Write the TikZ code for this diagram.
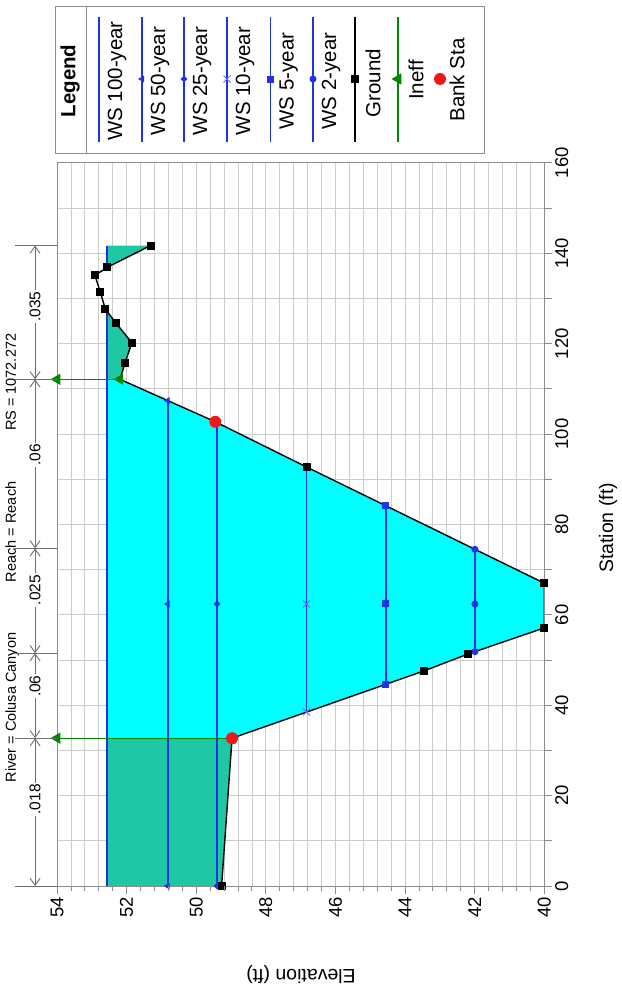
\documentclass[tikz,border=0pt]{standalone}
\usepackage{fontspec}
\setmainfont{Liberation Sans}
\usetikzlibrary{arrows.meta,shapes.geometric,shapes.misc}
\definecolor{wsblue}{RGB}{30,50,230}
\definecolor{cyanfill}{RGB}{0,255,255}
\definecolor{ineffill}{RGB}{30,200,165}
\definecolor{ineffgreen}{RGB}{0,135,0}
\definecolor{bankred}{RGB}{235,25,25}
\definecolor{gridc}{RGB}{205,205,205}
\definecolor{framec}{RGB}{140,140,140}
\definecolor{nline}{RGB}{110,110,110}
\tikzset{
  data/.style={x={(0pt,4.52pt)},y={(-34.8pt,0pt)},shift={(1936.2pt,-886pt)}},
  gridline/.style={draw=gridc,line width=0.7pt},
  wsline/.style={draw=wsblue,line width=1.8pt},
  groundline/.style={draw=black,line width=1.4pt},
  ineffline/.style={draw=ineffgreen,line width=1.4pt},
  gsq/.style={rectangle,fill=black,inner sep=0pt,minimum size=8pt},
  bankdot/.style={circle,fill=bankred,inner sep=0pt,minimum size=12pt},
  ineffmk/.style={regular polygon,regular polygon sides=3,rotate=90,fill=ineffgreen,inner sep=0pt,minimum size=13pt},
  mkfifty/.style={regular polygon,regular polygon sides=3,rotate=90,fill=wsblue,inner sep=0pt,minimum size=8pt},
  mktwentyfive/.style={diamond,fill=wsblue,inner sep=0pt,minimum size=7pt},
  mkten/.style={cross out,draw=wsblue!70,line width=1pt,inner sep=0pt,minimum size=6pt},
  mkfive/.style={rectangle,fill=wsblue,inner sep=0pt,minimum size=7pt},
  mktwo/.style={circle,fill=wsblue,inner sep=0pt,minimum size=7pt},
  ticklab/.style={font=\fontsize{18.5}{20}\selectfont,inner sep=0pt,rotate=90},
  nlab/.style={font=\fontsize{15.5}{17}\selectfont,fill=white,inner sep=1.5pt,rotate=90},
  legtext/.style={font=\fontsize{20.5}{22}\selectfont,rotate=90,inner sep=0pt},
  dimline/.style={draw=nline,line width=0.9pt,{Straight Barb[length=7pt,width=10pt]}-{Straight Barb[length=7pt,width=10pt]}},
  breakline/.style={draw=nline,line width=0.9pt},
}
\begin{document}
\begin{tikzpicture}[x=1pt,y=-1pt]
\useasboundingbox (0,0) rectangle (621,993);
\fill[white] (0,0) rectangle (621,993);

% title
\node[rotate=90,anchor=base,font=\fontsize{14.5}{16}\selectfont,inner sep=0pt] (title) at (16,558)
  {River = Colusa Canyon\hspace{3.5em}Reach = Reach\hspace{3.5em}RS = 1072.272};

\begin{scope}[data]
  % grid
  \foreach \i in {1,...,34} \draw[gridline] (0,{40+0.4*\i}) -- (160,{40+0.4*\i});
  \foreach \s in {10,20,...,150} \draw[gridline] (\s,40) -- (\s,54);

  % ground points
  \coordinate (g1) at (0,49.27);
  \coordinate (g2) at (32.7,48.97);
  \coordinate (g3) at (47.6,43.45);
  \coordinate (g4) at (51.3,42.2);
  \coordinate (g5) at (57.1,40.0);
  \coordinate (g6) at (67.0,40.0);
  \coordinate (g7) at (92.7,46.83);
  \coordinate (g8) at (102.7,49.45);
  \coordinate (g9) at (112.1,52.19);
  \coordinate (g10) at (115.6,52.05);
  \coordinate (g11) at (120.2,51.85);
  \coordinate (g12) at (124.5,52.30);
  \coordinate (g13) at (127.6,52.61);
  \coordinate (g14) at (131.5,52.76);
  \coordinate (g15) at (135.1,52.91);
  \coordinate (g16) at (136.9,52.55);
  \coordinate (g17) at (141.7,51.31);

  % water fills
  \fill[cyanfill] (32.7,52.57) -- (g2) -- (g3) -- (g4) -- (g5) -- (g6) -- (g7) -- (g8) -- (g9) -- (112.1,52.57) -- cycle;
  \fill[ineffill] (0,52.57) -- (g1) -- (g2) -- (32.7,52.57) -- cycle;
  \fill[ineffill] (112.1,52.57) -- (g9) -- (g10) -- (g11) -- (g12) -- (127.2,52.57) -- cycle;
  \fill[ineffill] (136.8,52.57) -- (g16) -- (g17) -- (141.7,52.57) -- cycle;

  % water surfaces
  \draw[wsline] (0,52.57) -- (127.2,52.57);
  \draw[wsline] (136.8,52.57) -- (141.7,52.57);
  \draw[wsline] (0,50.82) -- (107.4,50.82);
  \draw[wsline] (0,49.40) -- (102.5,49.40);
  \draw[wsline] (38.5,46.83) -- (92.7,46.83);
  \draw[wsline] (44.6,44.55) -- (84.1,44.55);
  \draw[wsline] (51.85,41.99) -- (74.5,41.99);

  % ground
  \draw[groundline] (g1) -- (g2) -- (g3) -- (g4) -- (g5) -- (g6) -- (g7) -- (g8) -- (g9) -- (g10) -- (g11) -- (g12) -- (g13) -- (g14) -- (g15) -- (g16) -- (g17);

  % frame
  \draw[framec,line width=1pt] (0,40) rectangle (160,54);

  % ineffective flow markers
  \coordinate (it1) at (32.7,54);
  \coordinate (it2) at (112.1,54);
  \draw[ineffline] (g2) -- (it1);
  \draw[ineffline] (g9) -- (it2);

  % WS markers
  \foreach \s [count=\i] in {0,62.4,107.4} \node[mkfifty] (ma\i) at (\s,50.82) {};
  \foreach \s [count=\i] in {0,62.4,102.5} \node[mktwentyfive] (mb\i) at (\s,49.40) {};
  \foreach \s [count=\i] in {38.5,62.4,92.7} \node[mkten] (mc\i) at (\s,46.83) {};
  \foreach \s [count=\i] in {44.6,62.4,84.1} \node[mkfive] (md\i) at (\s,44.55) {};
  \foreach \s [count=\i] in {51.85,62.4,74.5} \node[mktwo] (me\i) at (\s,41.99) {};

  % ground markers
  \foreach \g in {1,3,4,5,6,7,10,11,12,13,14,15,16,17} \node[gsq] (gs\g) at (g\g) {};
  \node[ineffmk] (im1) at (it1) {};
  \node[ineffmk] (im2) at (it2) {};
  \node[ineffmk] (im3) at (g9) {};
  \node[ineffmk] (im4) at (g2) {};
  \node[bankdot] (bk1) at (g2) {};
  \node[bankdot] (bk2) at (g8) {};

  % Manning's n strip
  \foreach \s [count=\i] in {0,32.7,51.5,74.7,112.1,141.7} {
    \coordinate (nb\i) at (\s,54.63);
    \draw[breakline] (\s,55.21) -- (\s,54);
  }
  \draw[dimline] (nb1) -- (nb2);
  \draw[dimline] (nb2) -- (nb3);
  \draw[dimline] (nb3) -- (nb4);
  \draw[dimline] (nb4) -- (nb5);
  \draw[dimline] (nb5) -- (nb6);
  \node[nlab] (n1) at (19.2,54.63) {.018};
  \node[nlab] (n2) at (44.2,54.63) {.06};
  \node[nlab] (n3) at (65.5,54.63) {.025};
  \node[nlab] (n4) at (95.4,54.63) {.06};
  \node[nlab] (n5) at (128.2,54.63) {.035};

  % axis ticks
  \foreach \s in {0,10,...,160} \draw[framec,line width=1pt] (\s,40) -- (\s,39.78);
  \foreach \i in {0,...,35} \draw[framec,line width=0.8pt] (0,{40+0.4*\i}) -- (-1.0,{40+0.4*\i});
  \foreach \e in {40,42,...,54} \draw[framec,line width=1pt] (0,\e) -- (-1.8,\e);
  \foreach \e in {40,42,...,54} \node[ticklab,anchor=east] (el\e) at (-2.4,\e) {\e};
  \foreach \s in {0,20,...,160} \node[ticklab,anchor=north] (sl\s) at (\s,39.69) {\s};
\end{scope}

% axis titles
\node[rotate=90,font=\fontsize{19.5}{22}\selectfont,inner sep=0pt] (stitle) at (608,528) {Station (ft)};
\node[rotate=180,font=\fontsize{19.5}{22}\selectfont,inner sep=0pt] (etitle) at (301,975) {Elevation (ft)};

% legend
\draw[framec,line width=0.9pt] (55,6) rectangle (484,153);
\draw[framec,line width=0.9pt] (86,6) -- (86,153);
\node[legtext,font=\bfseries\fontsize{20.5}{22}\selectfont] (lghead) at (70,81) {Legend};
\draw[wsline] (99,17) -- (99,142);
\node[legtext] (l1) at (117,81) {WS 100-year};
\draw[wsline] (142,17) -- (142,142);
\node[mkfifty] (lm2) at (142,79) {};
\node[legtext] (l2) at (160,81) {WS 50-year};
\draw[wsline] (184,17) -- (184,142);
\node[mktwentyfive] (lm3) at (184,79) {};
\node[legtext] (l3) at (202,81) {WS 25-year};
\draw[wsline] (227,17) -- (227,142);
\node[mkten] (lm4) at (227,79) {};
\node[legtext] (l4) at (245,81) {WS 10-year};
\draw[wsline] (270.5,17) -- (270.5,142);
\node[mkfive] (lm5) at (270.5,79) {};
\node[legtext] (l5) at (288.5,81) {WS 5-year};
\draw[wsline] (313,17) -- (313,142);
\node[mktwo] (lm6) at (313,79) {};
\node[legtext] (l6) at (331,81) {WS 2-year};
\draw[groundline] (355,17) -- (355,142);
\node[gsq] (lm7) at (355,79) {};
\node[legtext] (l7) at (373,83) {Ground};
\draw[ineffline] (398,17) -- (398,142);
\node[ineffmk] (lm8) at (398,79) {};
\node[legtext] (l8) at (416,80) {Ineff};
\node[bankdot] (lm9) at (440,79) {};
\node[legtext] (l9) at (457,80) {Bank Sta};
\end{tikzpicture}
\end{document}
